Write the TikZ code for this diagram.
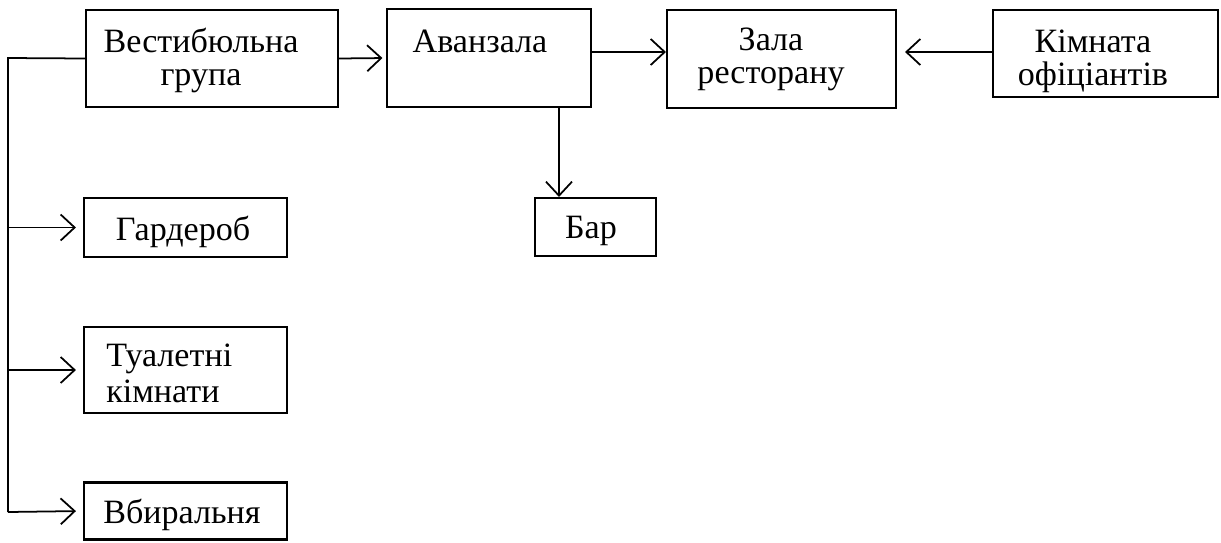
\documentclass[tikz,border=0pt]{standalone}
\usepackage{fontspec}
\setmainfont{Liberation Serif}
\usetikzlibrary{arrows.meta}

\begin{document}
\begin{tikzpicture}[x=0.02cm,y=-0.02cm]
      \tikzstyle{box}=[rectangle,draw,line width=1.2pt,inner sep=0pt]
      \tikzstyle{txt}=[inner sep=0pt,anchor=base,align=center,font=\fontsize{19.4pt}{18.4pt}\selectfont]
      \tikzstyle{arr}=[line width=1pt,-{Straight Barb[length=0.28cm,width=0.52cm,line width=1pt]}]
      \useasboundingbox (0,0) rectangle (1221,542);
      % boxes
      \node[box,minimum width=5.04cm,minimum height=1.94cm] (vest) at (212,58.5) {};
      \node[box,minimum width=4.08cm,minimum height=1.96cm] (avan) at (489,58) {};
      \node[box,minimum width=4.58cm,minimum height=1.96cm] (zala) at (781.5,59) {};
      \node[box,minimum width=4.5cm,minimum height=1.74cm] (kimn) at (1105.5,53.5) {};
      \node[box,minimum width=2.42cm,minimum height=1.16cm] (bar) at (595.5,227) {};
      \node[box,minimum width=4.06cm,minimum height=1.18cm] (gard) at (185.5,227.5) {};
      \node[box,minimum width=4.06cm,minimum height=1.72cm] (tual) at (185.5,370) {};
      \node[box,minimum width=4.06cm,minimum height=1.14cm] (vbyr) at (185.5,511) {};
      % texts (two-line texts sit on their last baseline)
      \node[txt] (vesttxt) at (201,85) {Вестибюльна\\група};
      \node[txt] (avantxt) at (480,52) {Аванзала};
      \node[txt] (zalatxt) at (771,83) {Зала\\ресторану};
      \node[txt] (kimntxt) at (1093,85) {Кімната\\офіціантів};
      \node[txt] (bartxt) at (591,238) {Бар};
      \node[txt] (gardtxt) at (183,240) {Гардероб};
      \node[txt,anchor=base west,align=left,font=\fontsize{19.4pt}{20pt}\selectfont] (tualtxt) at (106,402) {Туалетні\\кімнати};
      \node[txt] (vbyrtxt) at (182,523) {Вбиральня};
      % connectors
      \coordinate (trunk) at (8,58);
      \coordinate (trunkend) at (8,512);
      \draw[line width=1pt] (vest.west) -- (trunk) -- (trunkend);
      \draw[arr,shorten >=4pt] (trunk |- gard.west) -- (gard.west);
      \draw[arr,shorten >=4pt] (trunk |- tual.west) -- (tual.west);
      \draw[arr,shorten >=4pt] (trunkend) -- (vbyr.west);
      \draw[arr,shorten >=2pt] (vest.east) -- (avan.west);
      \draw[arr] ([yshift=0.12cm]avan.east) -- ([yshift=0.14cm]zala.west);
      \draw[arr,shorten >=0.16cm] ([yshift=0.03cm]kimn.west) -- ([yshift=0.14cm]zala.east);
      \draw[arr] ([xshift=1.4cm]avan.south) -- ([xshift=1.4cm]avan.south |- bar.north);
\end{tikzpicture}
\end{document}
